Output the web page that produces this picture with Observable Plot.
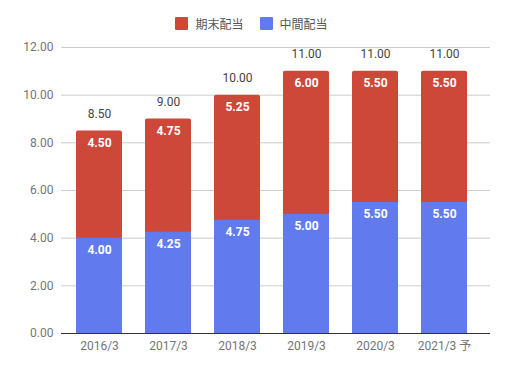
<!DOCTYPE html>
<html><head><meta charset="utf-8">
<script src="https://cdn.jsdelivr.net/npm/d3@7"></script>
<script src="https://cdn.jsdelivr.net/npm/@observablehq/plot@0.6"></script>
<style>
body{margin:0;background:#fff;font-family:Roboto,"Noto Sans CJK JP",sans-serif;}
#legend{height:40px;display:flex;justify-content:center;align-items:center;font-size:12px;color:#555;font-family:Roboto,"Noto Sans CJK JP",sans-serif;padding-top:6px;padding-right:4px;box-sizing:border-box;}
.sw{display:inline-block;width:13px;height:13px;margin-right:7px;border-radius:1px}
.item{display:flex;align-items:center;margin:0 8px}
</style></head>
<body>
<div id="legend"></div>
<div id="chart"></div>
<script>
const years = ["2016/3","2017/3","2018/3","2019/3","2020/3","2021/3 予"];
const interim = [4.00,4.25,4.75,5.00,5.50,5.50];
const yearEnd = [4.50,4.75,5.25,6.00,5.50,5.50];
const totals = interim.map((v,i)=>v+yearEnd[i]);
const yTicks = [0,2,4,6,8,10,12];
const seriesNames = ["期末配当","中間配当"];
const colors = ["#cd4839","#617bef"];

const data = years.map((y,i)=>({year:y, interim:interim[i], yearEnd:yearEnd[i], total:totals[i]}));

const leg = document.getElementById("legend");
seriesNames.forEach((n,i)=>{
  const it=document.createElement("span");it.className="item";
  it.innerHTML=`<span class="sw" style="background:${colors[i]}"></span>${n}`;
  leg.appendChild(it);
});

const chart = Plot.plot({
  width:507, height:328,
  marginLeft:61, marginRight:17, marginTop:7, marginBottom:35,
  style:{fontFamily:'Roboto,"Noto Sans CJK JP",sans-serif', fontSize:"12px"},
  x:{domain:years, paddingInner:0.333, paddingOuter:0.217, insetRight:8, label:null, tickSize:0, tickPadding:8},
  y:{domain:[0,12], ticks:yTicks, label:null, tickSize:0, tickPadding:8, tickFormat:d=>d.toFixed(2)},
  marks:[
    Plot.ruleY(yTicks.filter(d=>d>0),{stroke:"#cccccc"}),
    Plot.barY(data,{x:"year", y1:0, y2:"total", fill:colors[0], rx:2}),
    Plot.barY(data,{x:"year", y1:0, y2:"interim", fill:colors[1]}),
    Plot.ruleY([0],{stroke:"#333"}),
    Plot.text(data,{x:"year", y:"total", text:d=>d.total.toFixed(2), dy:-17, fill:"#444", fontSize:12}),
    Plot.text(data,{x:"year", y:"total", text:d=>d.yearEnd.toFixed(2), dy:12, fill:"white", fontWeight:"bold", fontSize:12}),
    Plot.text(data,{x:"year", y:"interim", text:d=>d.interim.toFixed(2), dy:12, fill:"white", fontWeight:"bold", fontSize:12})
  ]
});
chart.querySelectorAll('[aria-label="x-axis tick label"] text, [aria-label="y-axis tick label"] text').forEach(t=>t.setAttribute("fill","#757575"));
document.getElementById("chart").appendChild(chart);
</script>
</body></html>
